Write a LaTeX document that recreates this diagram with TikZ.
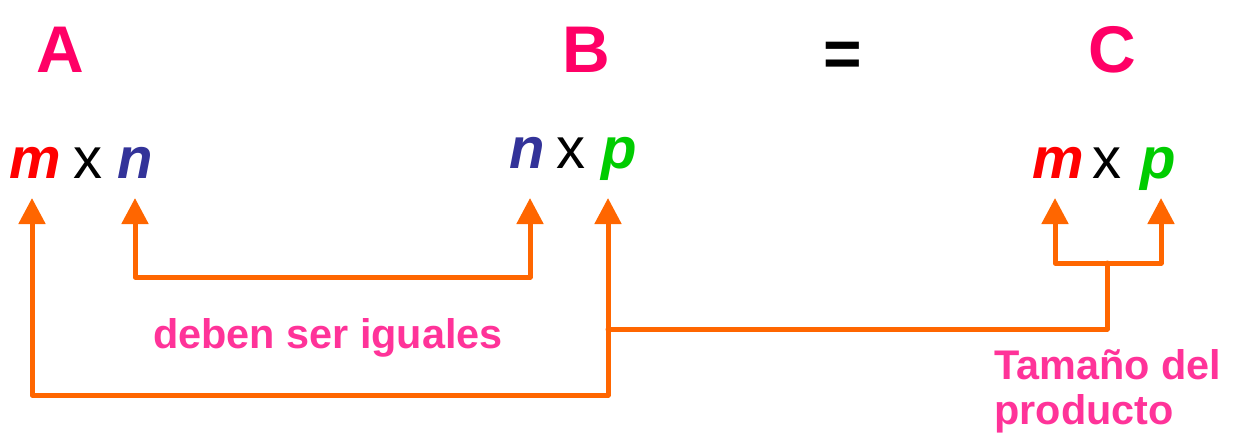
\documentclass[tikz,border=0pt]{standalone}
\usepackage{fontspec}
\setmainfont{Liberation Sans}
\definecolor{titlepink}{RGB}{255,0,102}
\definecolor{notepink}{RGB}{255,51,153}
\definecolor{linkorange}{RGB}{255,102,0}
\definecolor{mred}{RGB}{255,0,0}
\definecolor{nblue}{RGB}{51,51,153}
\definecolor{pgreen}{RGB}{0,204,0}
\usetikzlibrary{arrows.meta, calc}

\tikzset{
  matname/.style={font=\fontsize{33}{36}\selectfont\bfseries, text=titlepink, inner sep=0pt, anchor=base},
  dimsym/.style={font=\fontsize{29}{32}\selectfont\bfseries\itshape, inner sep=0pt, anchor=base},
  timessym/.style={font=\fontsize{29}{32}\selectfont, inner sep=0pt, anchor=base},
  notetext/.style={font=\fontsize{20.7}{22.5}\selectfont\bfseries, text=notepink, inner sep=0pt},
  link/.style={linkorange, line width=2.5pt, line cap=round, line join=round},
  twoheads/.style={{Triangle[length=13pt,width=13pt]}-{Triangle[length=13pt,width=13pt]}}
}

\begin{document}
\begin{tikzpicture}[x=0.5pt, y=-0.5pt]
  \useasboundingbox (0,0) rectangle (1235,435);

  % Titles
  \node[matname] (A) at (60,72) {A};
  \node[matname] (B) at (586,72) {B};
  \node[matname, text=black] (eq) at (843,76) {=};
  \node[matname] (C) at (1112,72) {C};

  % Sizes
  \node[dimsym, text=mred]   (mA) at (35,178) {m};
  \node[timessym]            (xA) at (88,178) {x};
  \node[dimsym, text=nblue]  (nA) at (135,178) {n};

  \node[dimsym, text=nblue]  (nB) at (527,168) {n};
  \node[timessym]            (xB) at (571,168) {x};
  \node[dimsym, text=pgreen] (pB) at (619,168) {p};

  \node[dimsym, text=mred]   (mC) at (1058,178) {m};
  \node[timessym]            (xC) at (1107,178) {x};
  \node[dimsym, text=pgreen] (pC) at (1158,178) {p};

  % Arrow tips and corners
  \coordinate (tipmA) at (32,198);
  \coordinate (tipnA) at (135,198);
  \coordinate (tipnB) at (530,198);
  \coordinate (tippB) at (608,198);
  \coordinate (tipmC) at (1055,198);
  \coordinate (tippC) at (1161,198);
  \coordinate (lowL) at (32,395);
  \coordinate (midL) at (135,277);
  \coordinate (joinB) at (608,329);
  \coordinate (forkC) at (1107,263);

  % Connectors
  \draw[link, twoheads] (tipmA) -- (lowL) -| (tippB);
  \draw[link, twoheads] (tipnA) -- (midL) -| (tipnB);
  \draw[link, twoheads] (tipmC) |- (forkC) -| (tippC);
  \draw[link] (forkC) |- (joinB);

  % Notes
  \node[notetext] (same) at (328,338) {deben ser iguales};
  \node[notetext, align=left, anchor=north west] (size) at (994,349) {Tamaño del\\producto};

\end{tikzpicture}
\end{document}
